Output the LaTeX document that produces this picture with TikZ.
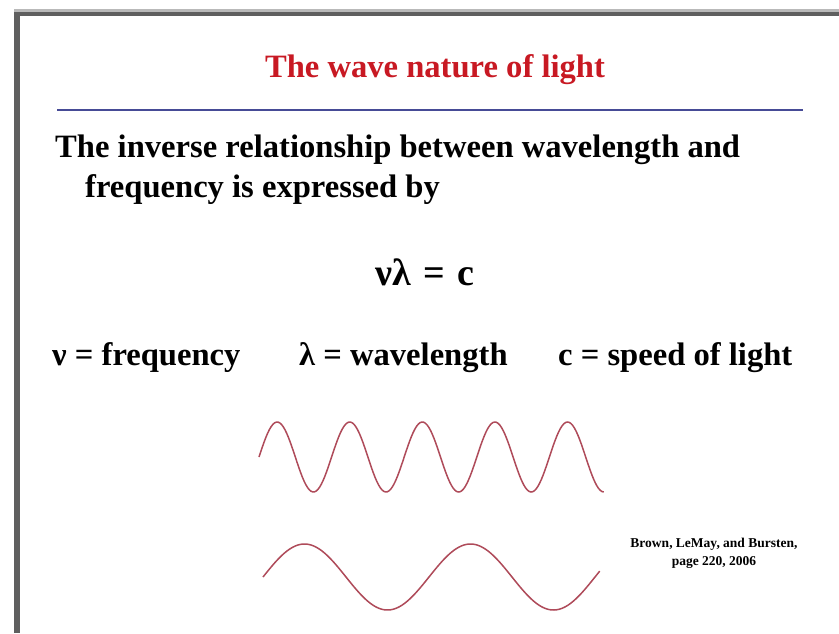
\documentclass[tikz,border=0pt]{standalone}
\usepackage{fontspec}
\setmainfont{Liberation Serif}
\definecolor{titlered}{RGB}{200,25,35}
\definecolor{rulelue}{RGB}{70,75,150}
\definecolor{wavecol}{RGB}{175,75,90}
\definecolor{framegray}{RGB}{95,95,95}
\tikzset{
  body/.style={font=\fontsize{32.6}{36}\selectfont\bfseries, inner sep=0pt, anchor=base west},
  wave/.style={draw=wavecol, line width=1.5pt},
}
\begin{document}
\begin{tikzpicture}[x=1pt,y=-1pt]
\useasboundingbox (0,0) rectangle (839,633);
\fill[white] (0,0) rectangle (839,633);
% frame
\fill[gray!55] (14,9) rectangle (839,12);
\fill[framegray] (14,12) rectangle (839,16);
\fill[framegray] (14,12) rectangle (20,633);
% title
\node[font=\fontsize{32.6}{36}\selectfont\bfseries, text=titlered, inner sep=0pt, anchor=base] (title) at (435,77) {The wave nature of light};
\draw[rulelue, line width=2.5pt] (57,110) -- (803,110) coordinate (ruleend);
% body
\node[body] (l1) at (55,157) {The inverse relationship between wavelength and};
\node[body] (l2) at (85,197) {frequency is expressed by};
\node[font=\fontsize{38}{42}\selectfont\bfseries, inner sep=0pt, anchor=base] (eq) at (425,285) {νλ\,\,=\,\,c};
\node[body] (d1) at (52,365) {ν = frequency};
\node[body] (d2) at (299,365) {λ = wavelength};
\node[body] (d3) at (558,365) {c = speed of light};
% waves
\draw[wave, domain=0:4.75, samples=200, variable=\t] plot ({259+\t*72.6},{457-35*sin(\t*360)});
\draw[wave, domain=0:2.03, samples=200, variable=\t] plot ({263+\t*166},{577-33*sin(\t*360)});
% citation
\node[font=\fontsize{13.5}{18}\selectfont\bfseries, align=center, inner sep=0pt] (cite) at (714,553) {Brown, LeMay, and Bursten,\\ page 220, 2006};
\end{tikzpicture}
\end{document}
